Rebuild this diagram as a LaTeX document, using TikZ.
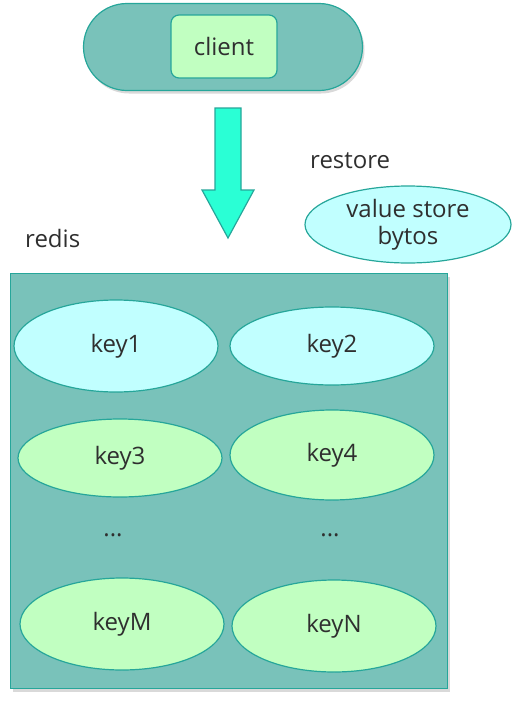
\documentclass[tikz,border=0pt]{standalone}
\usepackage{fontspec}
\setmainfont{Open Sans}
\usetikzlibrary{shapes.geometric,shadows}
\definecolor{tealfill}{HTML}{79C2BA}
\definecolor{tealline}{HTML}{26A69A}
\definecolor{lgreen}{HTML}{C1FFC1}
\definecolor{lcyan}{HTML}{C1FFFF}
\definecolor{aqua}{HTML}{2AFFD5}
\definecolor{txt}{HTML}{2F2F2F}
\tikzset{
  base/.style={draw=tealline, line width=1.2pt, text=txt, font=\fontsize{24}{28}\selectfont},
  shade/.style={drop shadow={shadow xshift=2pt, shadow yshift=-3pt, opacity=0.15, fill=black}},
  keyc/.style={base, ellipse, fill=lcyan, inner sep=0pt},
  keyg/.style={base, ellipse, fill=lgreen, inner sep=0pt},
  lbl/.style={text=txt, font=\fontsize{24}{28}\selectfont, inner sep=0pt}
}
\begin{document}
\begin{tikzpicture}[x=1pt,y=-1pt]
\useasboundingbox (0,0) rectangle (526,704);
% client pill
\node[base, shade, fill=tealfill, rounded corners=43.5pt, minimum width=279pt, minimum height=87pt] (pill) at (223,47) {};
\node[base, fill=lgreen, rounded corners=8pt, minimum width=106pt, minimum height=63pt] (client) at (224,46.5) {client};
% arrow
\draw[tealline, line width=1.2pt, fill=aqua]
  (215,108) -- (241,108) -- (241,190) -- (254,190) -- (228,238) -- (202,190) -- (215,190) -- cycle;
% restore
\node[lbl, anchor=west] (restore) at (310,161) {restore};
\node[keyc, minimum width=206pt, minimum height=77pt, align=center, font=\fontsize{24}{27}\selectfont] (value) at (408,224.5) {value store\\bytos};
% redis
\node[lbl, anchor=west] (redis) at (25,238) {redis};
% big rect
\node[base, shade, fill=tealfill, minimum width=437pt, minimum height=415pt, anchor=north west] (redisbox) at (10,273) {};
% keys
\node[keyc, minimum width=204pt, minimum height=92pt] (k1) at (116,346) {key1};
\node[keyc, minimum width=204pt, minimum height=78pt] (k2) at (332,346) {key2};
\node[keyg, minimum width=204pt, minimum height=78pt] (k3) at (120,458) {key3};
\node[keyg, minimum width=204pt, minimum height=90pt] (k4) at (332,455) {key4};
\node[lbl] (d1) at (113,535) {...};
\node[lbl] (d2) at (330,535) {...};
\node[keyg, minimum width=204pt, minimum height=92pt] (kM) at (122,624) {keyM};
\node[keyg, minimum width=204pt, minimum height=92pt] (kN) at (334,626) {keyN};
\end{tikzpicture}
\end{document}
